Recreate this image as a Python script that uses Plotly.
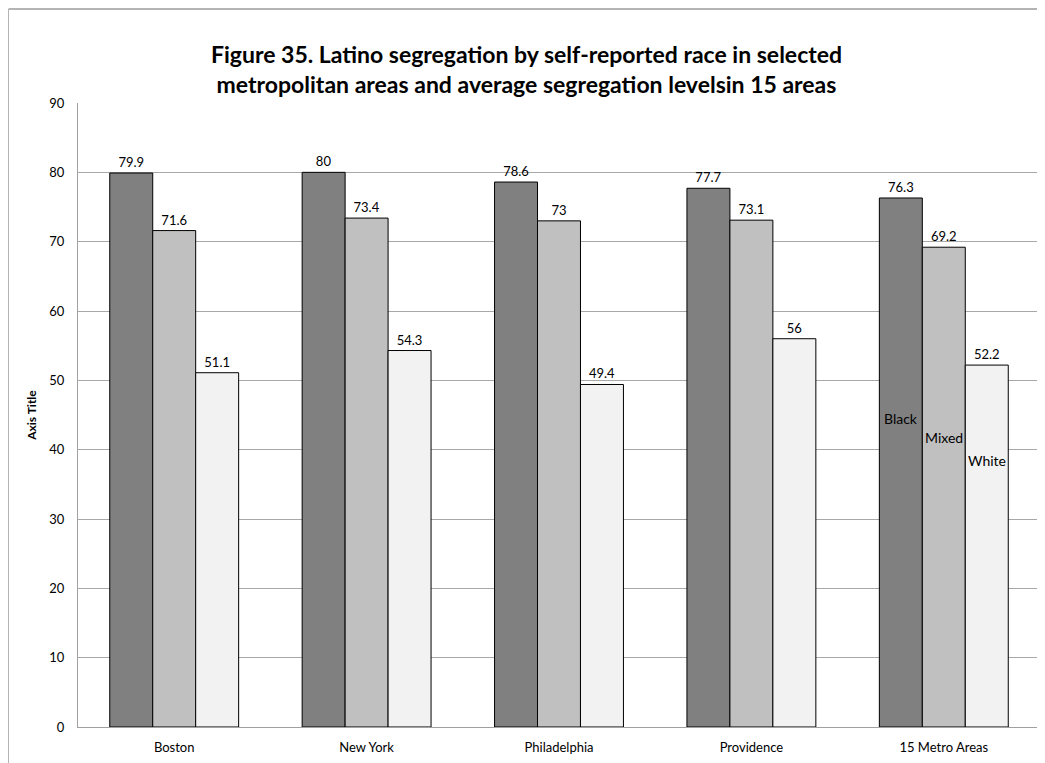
import plotly.graph_objects as go

# ---------------------------------------------------------------------------
# Data
# ---------------------------------------------------------------------------
areas = ["Boston", "New York", "Philadelphia", "Providence", "15 Metro Areas"]
series_names = ["Black", "Mixed", "White"]
black = [79.9, 80, 78.6, 77.7, 76.3]
mixed = [71.6, 73.4, 73, 73.1, 69.2]
white = [51.1, 54.3, 49.4, 56, 52.2]
y_ticks = [0, 10, 20, 30, 40, 50, 60, 70, 80, 90]

# stray series-name labels that sit inside the last group's bars
name_label_y = [44.5, 41.7, 38.5]

COLORS = ["#808080", "#c0c0c0", "#f2f2f2"]
FONT = "Lato, 'Open Sans', sans-serif"

# page body adds an 8px offset, so the figure is a bit smaller than the window
W, H = 1037, 755
M = dict(l=70, r=5, t=95, b=36)

fig = go.Figure()

for name, vals, col in zip(series_names, [black, mixed, white], COLORS):
    fig.add_trace(go.Bar(
        x=areas,
        y=vals,
        name=name,
        marker=dict(color=col, line=dict(color="#000000", width=1)),
        text=[f"{v:g}" for v in vals],
        textposition="outside",
        textfont=dict(size=13, color="#000000", family=FONT),
        cliponaxis=False,
        showlegend=False,
    ))

annotations = []
bar_px = (W - M["l"] - M["r"]) / len(areas) * 0.67 / 3
for i, (name, yv) in enumerate(zip(series_names, name_label_y)):
    annotations.append(dict(
        x=areas[-1], y=yv, xref="x", yref="y",
        text=name, showarrow=False,
        xshift=(i - 1) * bar_px,
        font=dict(size=14, color="#000000", family=FONT),
    ))

# outer chart-area frame (cut off at the right and bottom edges)
pw = W - M["l"] - M["r"]
ph = H - M["t"] - M["b"]
fx = (0.5 - M["l"]) / pw
fy = (H - M["b"] - 1) / ph
shapes = [
    dict(type="line", xref="paper", yref="paper", x0=fx, x1=1.02, y0=fy, y1=fy,
         line=dict(color="#b4b4b4", width=2)),
    dict(type="line", xref="paper", yref="paper", x0=fx, x1=fx, y0=fy, y1=-0.1,
         line=dict(color="#b4b4b4", width=1)),
]

fig.update_layout(
    width=W, height=H,
    margin=M,
    paper_bgcolor="white",
    plot_bgcolor="white",
    font=dict(family=FONT, color="#000000"),
    title=dict(
        text="<b>Figure 35. Latino segregation by self-reported race in selected<br>"
             "metropolitan areas and average segregation levelsin 15 areas</b>",
        font=dict(size=23, family=FONT, color="#000000"),
        x=0.5, xanchor="center",
        y=0.927, yanchor="middle",
    ),
    barmode="group",
    bargap=0.33,
    bargroupgap=0,
    xaxis=dict(
        showgrid=False,
        showline=True, linecolor="#a0a0a0", linewidth=1,
        tickfont=dict(size=13, family=FONT),
        ticks="", ticklabelstandoff=8,
    ),
    yaxis=dict(
        range=[0, 90],
        tickvals=y_ticks,
        showgrid=True, gridcolor="#a8a8a8", gridwidth=1,
        showline=True, linecolor="#a0a0a0", linewidth=1,
        zeroline=False,
        tickfont=dict(size=13, family=FONT),
        ticks="", ticklabelstandoff=10,
        title=dict(text="<b>Axis Title</b>", font=dict(size=12, family=FONT), standoff=10),
    ),
    annotations=annotations,
    shapes=shapes,
)

fig.write_html("out.html")
